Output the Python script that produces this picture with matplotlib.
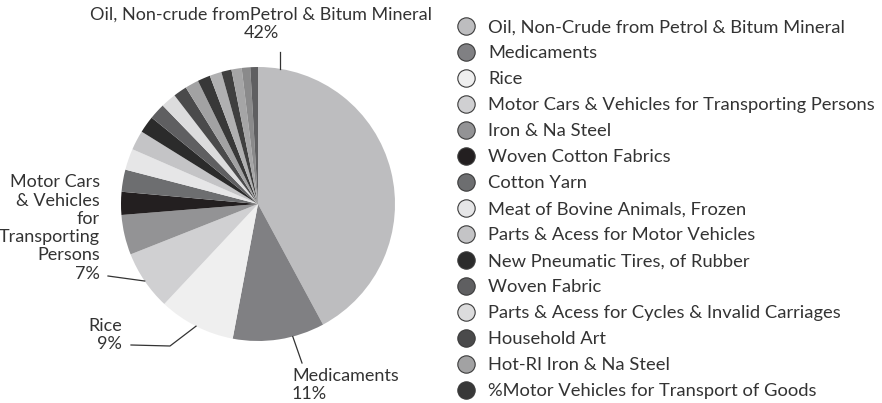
import matplotlib
matplotlib.use("Agg")
import matplotlib.pyplot as plt
from matplotlib.lines import Line2D
import numpy as np

# ---- data ----
categories = [
    "Oil, Non-Crude from Petrol & Bitum Mineral",
    "Medicaments",
    "Rice",
    "Motor Cars & Vehicles for Transporting Persons",
    "Iron & Na Steel",
    "Woven Cotton Fabrics",
    "Cotton Yarn",
    "Meat of Bovine Animals, Frozen",
    "Parts & Acess for Motor Vehicles",
    "New Pneumatic Tires, of Rubber",
    "Woven Fabric",
    "Parts & Acess for Cycles & Invalid Carriages",
    "Household Art",
    "Hot-RI Iron & Na Steel",
    "%Motor Vehicles for Transport of Goods",
]
legend_values = [42, 10.8, 9, 7, 4.7, 2.7, 2.6, 2.5, 2.3, 2.0, 1.9, 1.8, 1.6, 1.6, 1.5]
# further slices drawn in the pie but not named in the legend
unlisted_values = [1.4, 1.2, 1.2, 1.0, 0.9]
values = legend_values + unlisted_values

colors = ["#bdbdbf", "#808083", "#efefef", "#d0d0d2", "#939395", "#231f20",
          "#6d6e70", "#e6e6e7", "#c4c4c6", "#2b2b2b", "#5f5f61", "#dcdcdd",
          "#4a4a4b", "#a2a2a3", "#383838",
          "#b0b0b1", "#3f3f3f", "#a5a5a6", "#8a8a8b", "#5f5f61"]

label_texts = {
    0: "Oil, Non-crude fromPetrol & Bitum Mineral\n42%",
    1: "Medicaments\n11%",
    2: "Rice\n9%",
    3: "Motor Cars\n& Vehicles\nfor\nTransporting\nPersons\n7%",
}

# ---- figure ----
W, H = 882, 403
fig = plt.figure(figsize=(W / 100, H / 100), dpi=100)
plt.rcParams['font.family'] = ['Lato', 'DejaVu Sans']
text_color = "#333333"

cx, cy, R = 258, 204, 137
ax = fig.add_axes([(cx - R) / W, (H - cy - R) / H, 2 * R / W, 2 * R / H])
wedges, _ = ax.pie(values, colors=colors, startangle=90, counterclock=False,
                   radius=1, wedgeprops=dict(linewidth=0))
ax.set_xlim(-1, 1)
ax.set_ylim(-1, 1)
ax.set_aspect('auto')
ax.axis('off')


def pxd(x, y):
    return (x - cx) / R, (cy - y) / R


def edge(w, frac):
    a = np.deg2rad(w.theta1 + frac * (w.theta2 - w.theta1))
    return np.cos(a), np.sin(a)


lc = "#333333"
# leader lines
pts = [edge(wedges[0], 0.938), pxd(280, 52)]
pts[1] = (pts[0][0], pts[1][1])
ax.plot(*zip(*pts), color=lc, lw=0.9, clip_on=False)
ax.plot(*zip(edge(wedges[1], 0.65), pxd(302, 363)), color=lc, lw=0.9, clip_on=False)
ax.plot(*zip(edge(wedges[2], 0.5), pxd(170, 346), pxd(131, 345)), color=lc, lw=0.9, clip_on=False)
ax.plot(*zip(edge(wedges[3], 0.5), pxd(108, 276)), color=lc, lw=0.9, clip_on=False)

lab_fs = 13
ls = 1.17
fig.text(261 / W, 1 - 24 / H, label_texts[0], ha='center', va='center',
         multialignment='center', fontsize=lab_fs, color=text_color, linespacing=ls)
fig.text(292 / W, 1 - 385 / H, label_texts[1], ha='left', va='center',
         multialignment='left', fontsize=lab_fs, color=text_color, linespacing=ls)
fig.text(122 / W, 1 - 335 / H, label_texts[2], ha='right', va='center',
         multialignment='right', fontsize=lab_fs, color=text_color, linespacing=ls)
fig.text(100 / W, 1 - 228 / H, label_texts[3], ha='right', va='center',
         multialignment='right', fontsize=lab_fs, color=text_color, linespacing=ls)

handles = [Line2D([], [], marker='o', ls='', markersize=12.5,
                  markerfacecolor=colors[i], markeredgecolor='#3a3a3a',
                  markeredgewidth=0.8) for i in range(len(categories))]
leg = fig.legend(handles, categories, loc='upper left',
                 bbox_to_anchor=(448 / W, 1 - 12 / H), frameon=False,
                 fontsize=13.2, labelspacing=0.545, handletextpad=0.58,
                 borderaxespad=0, handlelength=1.2)
for t in leg.get_texts():
    t.set_color(text_color)

fig.savefig("out.png", dpi=100)
